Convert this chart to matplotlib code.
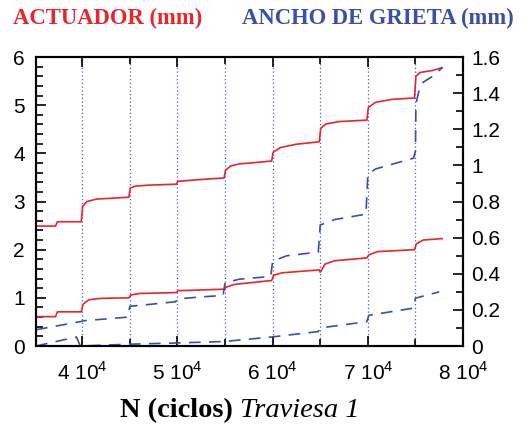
import matplotlib
matplotlib.use("Agg")
import matplotlib.pyplot as plt
from matplotlib.ticker import MultipleLocator, FuncFormatter

plt.rcParams['font.family'] = ['Liberation Sans', 'DejaVu Sans']
plt.rcParams['mathtext.fontset'] = 'custom'
plt.rcParams['mathtext.rm'] = 'Liberation Sans'

# actuador, curva superior (mm)
act_sup_n = [35150, 37200, 37400, 39900, 40050, 40500, 41500, 44900, 45050, 45600, 47000,
             49900, 50050, 52000, 54900, 55050, 55600, 56500, 59900, 60050, 60800, 62500,
             64900, 65050, 65600, 67000, 69900, 70050, 70800, 72500, 74900, 75050, 75500,
             76800, 77800]
act_sup = [2.49, 2.49, 2.58, 2.58, 2.90, 3.00, 3.05, 3.09, 3.28, 3.32, 3.34,
           3.36, 3.42, 3.45, 3.49, 3.65, 3.74, 3.78, 3.84, 4.02, 4.12, 4.19,
           4.24, 4.52, 4.61, 4.66, 4.69, 4.95, 5.06, 5.12, 5.15, 5.60, 5.68,
           5.72, 5.78]

# actuador, curva inferior (mm)
act_inf_n = [35150, 37200, 37400, 39900, 40100, 40700, 42000, 44900, 45100, 46000, 49900,
             50100, 52000, 54900, 55100, 56000, 59900, 60100, 61000, 64900, 65000, 65500,
             66500, 69900, 70100, 71000, 74900, 75100, 75800, 77800]
act_inf = [0.61, 0.61, 0.71, 0.71, 0.87, 0.96, 0.99, 1.00, 1.06, 1.09, 1.11,
           1.15, 1.16, 1.18, 1.22, 1.28, 1.36, 1.47, 1.52, 1.58, 1.53, 1.70,
           1.77, 1.83, 1.89, 1.96, 2.00, 2.12, 2.20, 2.23]

# ancho de grieta, curva A (mm)
grieta_a_n = [35150, 39800, 40200, 44800, 45000, 47000, 49800, 50000, 52000, 54800, 55000,
              56500, 59800, 60000, 61500, 64800, 65000, 66500, 69800, 70000, 70800, 74800,
              75000, 75050, 75400, 75800, 76700, 77800]
grieta_a = [0.09, 0.135, 0.14, 0.16, 0.22, 0.23, 0.245, 0.26, 0.27, 0.28, 0.35,
            0.37, 0.385, 0.47, 0.50, 0.52, 0.67, 0.70, 0.73, 0.95, 0.98, 1.04,
            1.08, 1.34, 1.42, 1.46, 1.49, 1.54]

# ancho de grieta, curva B (mm)
grieta_b_n = [35150, 39400, 39800, 44900, 50000, 54900, 59900, 64800, 65000, 69900, 70100,
              74800, 75000, 77500]
grieta_b = [0.0, 0.05, 0.0, 0.01, 0.017, 0.025, 0.05, 0.08, 0.10, 0.135, 0.17,
            0.21, 0.265, 0.30]

rojo = '#e8252d'
azul = '#3c4fa3'

fig = plt.figure(figsize=(5.25, 4.3), dpi=100)
ax = fig.add_axes([0.0686, 0.1953, 0.8134, 0.6721])
ax2 = ax.twinx()

ax.plot(act_sup_n, act_sup, color=rojo, lw=1.2)
ax.plot(act_inf_n, act_inf, color=rojo, lw=1.2)
ax2.plot(grieta_a_n, grieta_a, color=azul, lw=1.2, dashes=(7, 5))
ax2.plot(grieta_b_n, grieta_b, color=azul, lw=1.2, dashes=(7, 5))

ax.set_xlim(35150, 80000)
ax.set_ylim(0, 6)
ax2.set_ylim(0, 1.6)

ax.xaxis.set_major_locator(MultipleLocator(10000))
ax.xaxis.set_minor_locator(MultipleLocator(5000))
ax.xaxis.set_major_formatter(FuncFormatter(lambda v, p: r'%d 10$^{4}$' % round(v / 10000)))
ax.yaxis.set_major_locator(MultipleLocator(1))
ax.yaxis.set_minor_locator(MultipleLocator(0.2))
ax2.yaxis.set_major_locator(MultipleLocator(0.2))
ax2.yaxis.set_minor_locator(MultipleLocator(0.1))
ax2.yaxis.set_major_formatter(FuncFormatter(lambda v, p: '%g' % round(v, 1)))

ax.grid(True, which='both', axis='x', color='#4a5fbf', lw=0.9, linestyle=(0, (1, 2)))

for a in (ax, ax2):
    for s in a.spines.values():
        s.set_linewidth(1.5)
ax.tick_params(which='both', direction='in', top=True, labelsize=15, width=1.2, pad=8)
ax.tick_params(axis='x', which='both', pad=11)
ax.tick_params(which='major', length=7)
ax.tick_params(which='minor', length=5)
ax2.tick_params(which='both', direction='in', labelsize=15, width=1.2, pad=6)
ax2.tick_params(which='major', length=7)
ax2.tick_params(which='minor', length=5)

fig.text(0.025, 0.945, 'ACTUADOR (mm)', color=rojo, fontsize=16.3, fontweight='bold',
         family='Liberation Serif')
fig.text(0.461, 0.945, 'ANCHO DE GRIETA (mm)', color=azul, fontsize=16.3, fontweight='bold',
         family='Liberation Serif')

# etiqueta del eje x: parte en negrita + parte en cursiva
r = fig.canvas.get_renderer()
t1 = fig.text(0, 0.03, 'N (ciclos) ', fontsize=20.5, fontweight='bold', family='Liberation Serif')
t2 = fig.text(0, 0.03, 'Traviesa 1', fontsize=20.5, fontstyle='italic', family='Liberation Serif')
w1 = t1.get_window_extent(r).width
w2 = t2.get_window_extent(r).width
x0 = 240 - (w1 + w2) / 2
t1.set_x(x0 / 525)
t2.set_x((x0 + w1) / 525)

fig.savefig('out.png', dpi=100)
